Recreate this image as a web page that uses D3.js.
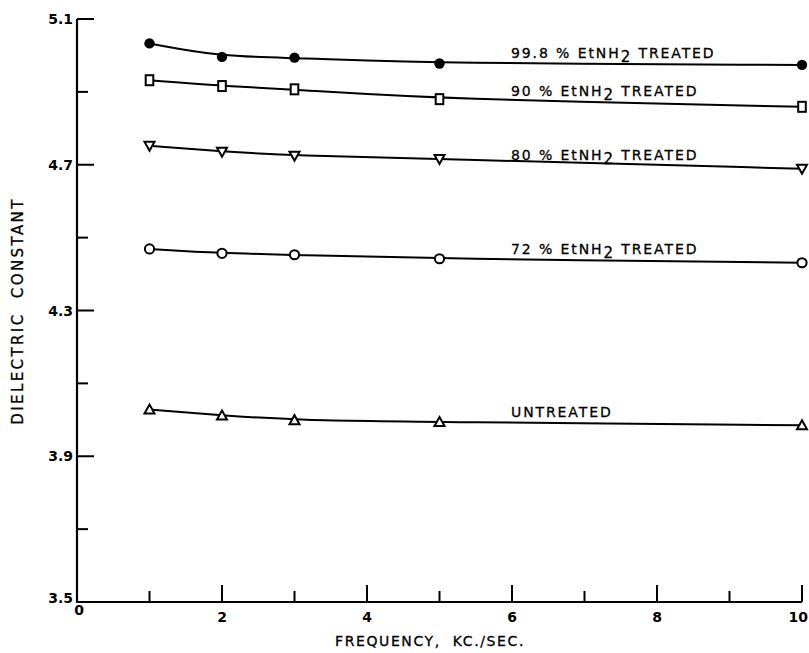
<!DOCTYPE html>
<html><head><meta charset="utf-8">
<script src="https://cdn.jsdelivr.net/npm/d3@7"></script>
<style>body{margin:0;background:#fff}svg text{font-family:"DejaVu Sans",sans-serif;fill:#000}</style>
</head><body>
<svg id="c" width="809" height="653"></svg>
<script>
const freq = [1, 2, 3, 5, 10];
const s998 = [5.033, 4.996, 4.994, 4.978, 4.974];
const s90 = [4.932, 4.916, 4.907, 4.880, 4.859];
const s80 = [4.752, 4.736, 4.725, 4.716, 4.689];
const s72 = [4.469, 4.457, 4.453, 4.442, 4.431];
const sUn = [4.028, 4.012, 3.999, 3.994, 3.985];
const seriesNames = ["99.8 % EtNH", "90 % EtNH", "80 % EtNH", "72 % EtNH", "UNTREATED"];
const seriesVals = [s998, s90, s80, s72, sUn];
const markers = ["filledCircle", "square", "triangleDown", "circle", "triangleUp"];
const yMajor = [5.1, 4.7, 4.3, 3.9, 3.5];
const yMinor = [4.9, 4.5, 4.1, 3.7];
const xTicks = [1,2,3,4,5,6,7,8,9,10];
const xLabels = [0,2,4,6,8,10];

const svg = d3.select("#c");
const x = d3.scaleLinear().domain([0,10]).range([77,802]);
const y = d3.scaleLinear().domain([3.5,5.1]).range([602,19]);

svg.append("line").attr("x1",x(0)).attr("x2",x(0)).attr("y1",y(5.1)).attr("y2",y(3.5)).attr("stroke","#000").attr("stroke-width",2.2);
svg.append("line").attr("x1",x(0)-1).attr("x2",x(10)).attr("y1",y(3.5)).attr("y2",y(3.5)).attr("stroke","#000").attr("stroke-width",2.2);

yMajor.filter(v=>v>3.5).forEach(v=>{
  svg.append("line").attr("x1",x(0)).attr("x2",x(0)+17).attr("y1",y(v)).attr("y2",y(v)).attr("stroke","#000").attr("stroke-width",2);
});
yMinor.forEach(v=>{
  svg.append("line").attr("x1",x(0)).attr("x2",x(0)+11).attr("y1",y(v)).attr("y2",y(v)).attr("stroke","#000").attr("stroke-width",2);
});
yMajor.forEach(v=>{
  svg.append("text").attr("x",x(0)-4).attr("y",y(v)+ (v===3.5?1:5)).attr("text-anchor","end")
    .attr("font-size",14).attr("font-weight","bold").text(v.toFixed(1));
});
xTicks.forEach(t=>{
  const len = t%2===0 ? 17 : 11;
  svg.append("line").attr("x1",x(t)).attr("x2",x(t)).attr("y1",y(3.5)).attr("y2",y(3.5)-len).attr("stroke","#000").attr("stroke-width",2);
});
xLabels.forEach(t=>{
  const tx = svg.append("text").attr("y",y(3.5)+ (t===0?13:20))
    .attr("font-size",14).attr("font-weight","bold").text(t);
  if(t===10) tx.attr("x",808).attr("text-anchor","end");
  else tx.attr("x",x(t)+(t===0?2:0)).attr("text-anchor","middle");
});

svg.append("text").attr("transform","translate(23,311) rotate(-90)").attr("text-anchor","middle")
  .attr("font-size",15).attr("letter-spacing",2.4).attr("stroke","#000").attr("stroke-width",0.3)
  .attr("xml:space","preserve").text("DIELECTRIC  CONSTANT");
svg.append("text").attr("x",430).attr("y",646).attr("text-anchor","middle")
  .attr("font-size",14).attr("letter-spacing",1.6).attr("stroke","#000").attr("stroke-width",0.3)
  .attr("xml:space","preserve").text("FREQUENCY,  KC./SEC.");

const line = d3.line().x((d,i)=>x(freq[i])).y(d=>y(d)).curve(d3.curveBasis);
seriesVals.forEach(vals=>{
  svg.append("path").attr("d",line(vals)).attr("fill","none").attr("stroke","#000").attr("stroke-width",2);
});

seriesVals.forEach((vals,k)=>{
  const m = markers[k];
  vals.forEach((v,i)=>{
    const cx = x(freq[i]), cy = y(v);
    if(m==="filledCircle"){
      svg.append("circle").attr("cx",cx).attr("cy",cy).attr("r",5.2).attr("fill","#000");
    } else if(m==="circle"){
      svg.append("circle").attr("cx",cx).attr("cy",cy).attr("r",4.6).attr("fill","#fff").attr("stroke","#000").attr("stroke-width",2);
    } else if(m==="square"){
      svg.append("rect").attr("x",cx-3.8).attr("y",cy-5).attr("width",7.6).attr("height",10).attr("fill","#fff").attr("stroke","#000").attr("stroke-width",2);
    } else if(m==="triangleDown"){
      svg.append("path").attr("d",`M${cx-5},${cy-4}L${cx+5},${cy-4}L${cx},${cy+5}Z`).attr("fill","#fff").attr("stroke","#000").attr("stroke-width",2);
    } else {
      svg.append("path").attr("d",`M${cx-5},${cy+4}L${cx+5},${cy+4}L${cx},${cy-5}Z`).attr("fill","#fff").attr("stroke","#000").attr("stroke-width",2);
    }
  });
});

const labelY = [58, 96, 160, 254, 417];
seriesNames.forEach((name,k)=>{
  const t = svg.append("text").attr("x",511).attr("y",labelY[k]).attr("font-size",14)
    .attr("letter-spacing",1.9).attr("stroke","#000").attr("stroke-width",0.3).attr("xml:space","preserve");
  if(k<4){
    t.append("tspan").text(name);
    t.append("tspan").attr("dy",4).attr("font-size",15).text("2");
    t.append("tspan").attr("dy",-4).text(" TREATED");
  } else {
    t.text(name);
  }
});
</script>
</body></html>
